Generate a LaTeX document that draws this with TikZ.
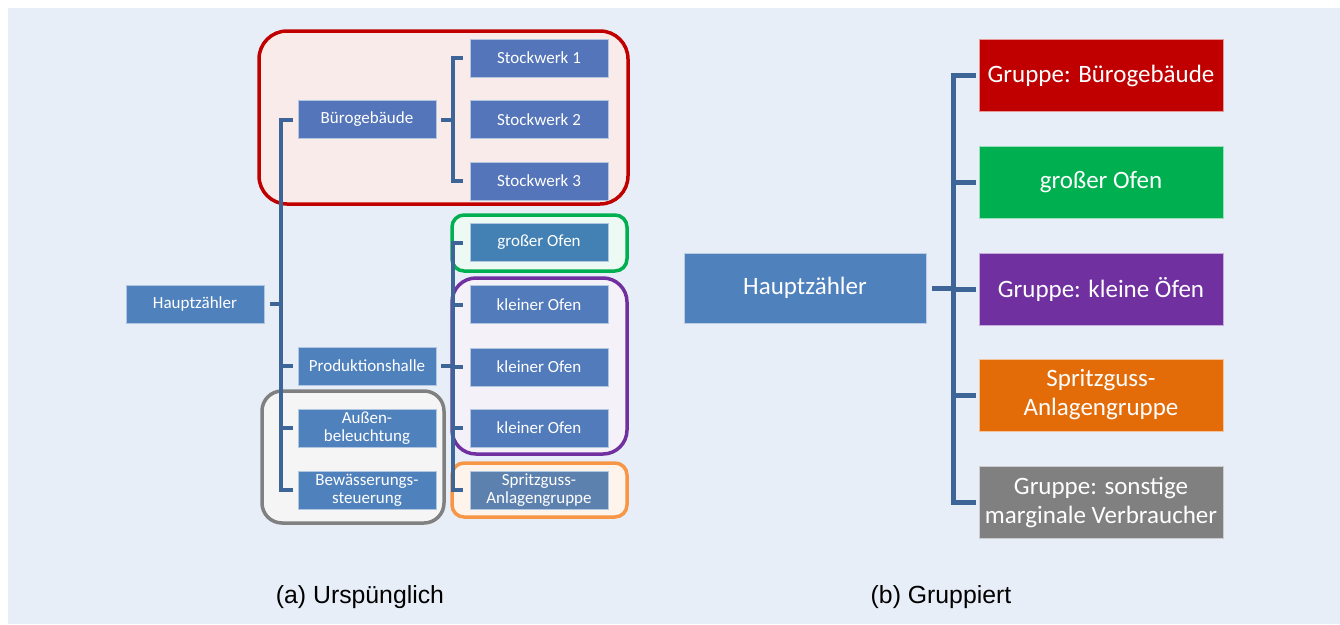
\documentclass[tikz,border=0pt]{standalone}
\usepackage{fontspec}
\setmainfont{Carlito}
\newfontfamily\capfont{Liberation Sans}
\definecolor{panelbg}{HTML}{E8EEF8}
\definecolor{boxblue}{HTML}{4F81BD}
\definecolor{linkblue}{HTML}{3E6597}
\definecolor{grpred}{HTML}{C00000}
\definecolor{grpgreen}{HTML}{00B050}
\definecolor{grppurple}{HTML}{7030A0}
\definecolor{grporange}{HTML}{F79646}
\definecolor{grpgrey}{HTML}{808080}
\definecolor{darkorange}{HTML}{E36C09}

\tikzset{
  box/.style={draw=white!55!boxblue, line width=0.6pt, fill=boxblue, text=white,
    minimum width=138pt, minimum height=38pt, inner sep=0pt, align=center,
    font=\fontsize{17}{18}\selectfont},
  bigbox/.style={box, draw=white!60!#1, fill=#1, minimum width=244pt, minimum height=72pt,
    font=\fontsize{25}{29}\selectfont},
  link/.style={line width=4pt, linkblue},
  grp/.style={line width=3.5pt, rounded corners=#1},
  caption/.style={font=\capfont\fontsize{24.8}{28}\selectfont, anchor=base},
}

\begin{document}
\begin{tikzpicture}[x=1pt,y=-1pt]
  \fill[white] (0,0) rectangle (1340,624);
  \fill[panelbg] (8,8) rectangle (1340,624);

  % groups of the original tree
  \draw[grp=28pt, draw=grpred, fill=grpred!8!white] (259,31) rectangle (628,204);
  \draw[grp=12pt, draw=grpgreen, fill=grpgreen!7!white] (452,215) rectangle (627,271);
  \draw[grp=24pt, draw=grppurple, fill=grppurple!7!white] (452,278) rectangle (627,454);
  \draw[grp=12pt, draw=grporange, fill=grporange!10!white] (452,463) rectangle (627,517);
  \draw[grp=20pt, draw=grpgrey, fill=grpgrey!8!white] (262,391) rectangle (444,523);

  % (a) original tree
  \node[box] (hz) at (195,304) {Hauptzähler};
  \node[box, fill=boxblue!85!grppurple] (buero) at (367,119.5) {Bürogebäude};
  \node[box, fill=boxblue!85!grppurple] (sw1) at (539,58) {Stockwerk 1};
  \node[box, fill=boxblue!85!grppurple] (sw2) at (539,119.5) {Stockwerk 2};
  \node[box, fill=boxblue!85!grppurple] (sw3) at (539,181) {Stockwerk 3};
  \node[box] (prod) at (367,366) {Produktionshalle};
  \node[box] (aussen) at (367,428) {Außen-\\beleuchtung};
  \node[box] (bew) at (367,490) {Bewässerungs-\\steuerung};
  \node[box, fill=boxblue!85!teal] (ofen) at (539,242.5) {großer Ofen};
  \node[box, fill=boxblue!92!grppurple] (kofen1) at (539,304.5) {kleiner Ofen};
  \node[box, fill=boxblue!92!grppurple] (kofen2) at (539,367) {kleiner Ofen};
  \node[box, fill=boxblue!92!grppurple] (kofen3) at (539,428) {kleiner Ofen};
  \node[box, fill=boxblue!92!orange] (spritz) at (539,490) {Spritzguss-\\Anlagengruppe};

  \coordinate (tA) at (281,0);
  \coordinate (tB) at (453,0);
  \draw[link] ([xshift=6pt]hz.east) -- (hz.east -| tA);
  \draw[link] ([xshift=-5pt]buero.west) -- (buero.west -| tA) -- (bew.west -| tA) -- ([xshift=-5pt]bew.west);
  \foreach \n in {prod,aussen}
    \draw[link] (\n.west -| tA) -- ([xshift=-5pt]\n.west);
  \draw[link] ([xshift=5pt]buero.east) -- (buero.east -| tB);
  \draw[link] ([xshift=-7pt]sw1.west) -- (sw1.west -| tB) -- (sw3.west -| tB) -- ([xshift=-7pt]sw3.west);
  \draw[link] ([xshift=5pt]prod.east) -- (prod.east -| tB);
  \draw[link] ([xshift=-7pt]ofen.west) -- (ofen.west -| tB) -- (spritz.west -| tB) -- ([xshift=-7pt]spritz.west);
  \foreach \n in {kofen1,kofen2,kofen3}
    \draw[link] (\n.west -| tB) -- ([xshift=-7pt]\n.west);

  % (b) grouped tree
  \node[bigbox=boxblue, minimum width=242pt, minimum height=70pt] (hzb) at (805,288) {Hauptzähler};
  \node[bigbox=grpred] (gbuero) at (1101,75.5) {Gruppe: Bürogebäude};
  \node[bigbox=grpgreen] (gofen) at (1101,182.5) {großer Ofen};
  \node[bigbox=grppurple] (gklein) at (1101,289) {Gruppe: kleine Öfen};
  \node[bigbox=darkorange] (gspritz) at (1101,395) {Spritzguss-\\Anlagengruppe};
  \node[bigbox=grpgrey] (gsonst) at (1101,502) {Gruppe: sonstige\\marginale Verbraucher};

  \coordinate (tR) at (953,0);
  \draw[link, line width=5pt] ([xshift=6pt]hzb.east) -- (hzb.east -| tR);
  \draw[link, line width=5pt] ([xshift=-3pt]gbuero.west) -- (gbuero.west -| tR) -- (gsonst.west -| tR) -- ([xshift=-3pt]gsonst.west);
  \foreach \n in {gofen,gklein,gspritz}
    \draw[link, line width=5pt] (\n.west -| tR) -- ([xshift=-3pt]\n.west);

  \node[caption] (capa) at (360,603) {(a) Urspünglich};
  \node[caption] (capb) at (941,603) {(b) Gruppiert};
\end{tikzpicture}
\end{document}
